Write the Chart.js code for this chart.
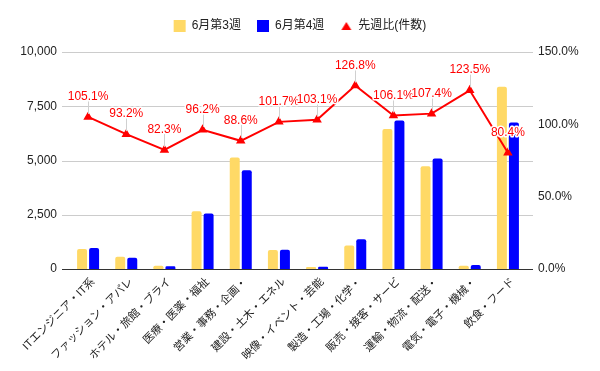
<!DOCTYPE html>
<html>
<head>
<meta charset="utf-8">
<script src="https://cdn.jsdelivr.net/npm/chart.js@4"></script>
<style>
html,body{margin:0;padding:0;background:#fff;}
#wrap{width:600px;height:371px;position:relative;}
</style>
</head>
<body>
<div id="wrap"><canvas id="c" width="600" height="371"></canvas></div>
<script>
const categories = ["ITエンジニア・IT系","ファッション・アパレ","ホテル・旅館・ブライ","医療・医薬・福祉","営業・事務・企画・","建設・土木・エネル","映像・イベント・芸能","製造・工場・化学・","販売・接客・サービ","運輸・物流・配送・","電気・電子・機械・","飲食・フード"];
const week3 = [920, 560, 150, 2660, 5140, 870, 95, 1080, 6450, 4740, 150, 8400];
const week4 = [970, 522, 123, 2560, 4555, 885, 98, 1370, 6845, 5090, 185, 6750];
const ratio = [105.1, 93.2, 82.3, 96.2, 88.6, 101.7, 103.1, 126.8, 106.1, 107.4, 123.5, 80.4];
const leftTicks = [0, 2500, 5000, 7500, 10000];
const rightTicks = [0, 50, 100, 150];
const seriesNames = ["6月第3週", "6月第4週", "先週比(件数)"];

const FONT = "'Liberation Sans', Arial, 'Noto Sans CJK JP', sans-serif";
Chart.defaults.font.family = FONT;
Chart.defaults.font.size = 12;
Chart.defaults.color = '#222';

// small triangle icon for the legend
const tri = document.createElement('canvas');
tri.width = 12; tri.height = 12;
(function(){
  const c = tri.getContext('2d');
  c.fillStyle = '#ff0000';
  c.beginPath();
  c.moveTo(6, 2); c.lineTo(11, 10); c.lineTo(1, 10); c.closePath();
  c.fill();
})();

const layoutPlugin = {
  id: 'legendSpace',
  beforeLayout(chart) {
    const lg = chart.legend;
    if (lg && !lg._patched) {
      const orig = lg.fit;
      lg.fit = function() { orig.call(this); this.height += 10; };
      lg._patched = true;
    }
  }
};

const gridPlugin = {
  id: 'grid',
  beforeDatasetsDraw(chart) {
    const ctx = chart.ctx, a = chart.chartArea, y = chart.scales.y;
    ctx.save();
    leftTicks.forEach(v => {
      const py = Math.round(y.getPixelForValue(v)) + 0.5;
      ctx.beginPath();
      ctx.strokeStyle = v === 0 ? '#333' : '#cccccc';
      ctx.lineWidth = 1;
      ctx.moveTo(a.left - 7, py);
      ctx.lineTo(a.right + 6, py);
      ctx.stroke();
    });
    ctx.restore();
  }
};

const xLabelPlugin = {
  id: 'xLabels',
  afterDraw(chart) {
    const ctx = chart.ctx, x = chart.scales.x, a = chart.chartArea;
    ctx.save();
    ctx.font = '11px ' + FONT;
    ctx.fillStyle = '#222';
    ctx.textAlign = 'right';
    ctx.textBaseline = 'middle';
    categories.forEach((lab, i) => {
      const px = x.getPixelForTick(i);
      ctx.save();
      ctx.translate(px + 5, a.bottom + 11);
      ctx.rotate(-Math.PI / 4);
      ctx.fillText(lab, 0, 0);
      ctx.restore();
    });
    ctx.restore();
  }
};

const labelPlugin = {
  id: 'lineLabels',
  afterDatasetsDraw(chart) {
    const ctx = chart.ctx;
    const meta = chart.getDatasetMeta(2);
    ctx.save();
    ctx.font = '12px ' + FONT;
    ctx.textAlign = 'center';
    ctx.textBaseline = 'alphabetic';
    meta.data.forEach((pt, i) => {
      const x = pt.x, yy = pt.y;
      ctx.beginPath();
      ctx.strokeStyle = '#d0d0d0';
      ctx.lineWidth = 1;
      ctx.moveTo(Math.round(x) + 0.5, yy - 3);
      ctx.lineTo(Math.round(x) + 0.5, yy - 16);
      ctx.stroke();
      const txt = ratio[i].toFixed(1) + '%';
      ctx.lineWidth = 3;
      ctx.strokeStyle = '#ffffff';
      ctx.lineJoin = 'round';
      ctx.strokeText(txt, x, yy - 17);
      ctx.fillStyle = '#ff0000';
      ctx.fillText(txt, x, yy - 17);
    });
    ctx.restore();
  }
};

new Chart(document.getElementById('c'), {
  type: 'bar',
  data: {
    labels: categories,
    datasets: [
      { label: seriesNames[0], data: week3, backgroundColor: '#ffd966', yAxisID: 'y', order: 2,
        categoryPercentage: 0.63, barPercentage: 0.83, borderRadius: {topLeft: 2, topRight: 2}, borderSkipped: 'bottom' },
      { label: seriesNames[1], data: week4, backgroundColor: '#0000ff', yAxisID: 'y', order: 2,
        categoryPercentage: 0.63, barPercentage: 0.83, borderRadius: {topLeft: 2, topRight: 2}, borderSkipped: 'bottom' },
      { label: seriesNames[2], type: 'line', data: ratio, yAxisID: 'y1', order: 0,
        borderColor: '#ff0000', backgroundColor: '#ff0000', borderWidth: 2, tension: 0,
        pointStyle: 'triangle', pointRadius: 3.5, pointHoverRadius: 3.5, pointBackgroundColor: '#ff0000', pointBorderColor: '#ff0000' }
    ]
  },
  options: {
    responsive: false,
    animation: false,
    devicePixelRatio: 1,
    layout: { padding: { top: 4, bottom: 0, left: 0, right: 0 } },
    plugins: {
      tooltip: { enabled: false },
      legend: {
        position: 'top',
        labels: {
          usePointStyle: true,
          boxWidth: 12, boxHeight: 12,
          padding: 16,
          color: '#222',
          font: { size: 12, family: FONT },
          sort: (a, b) => a.datasetIndex - b.datasetIndex,
          generateLabels(chart) {
            const items = Chart.defaults.plugins.legend.labels.generateLabels(chart);
            items.forEach(it => {
              it.pointStyle = it.datasetIndex === 2 ? tri : 'rect';
              it.lineWidth = 0;
              it.strokeStyle = 'rgba(0,0,0,0)';
            });
            return items;
          }
        }
      }
    },
    scales: {
      x: {
        grid: { display: false },
        border: { display: false },
        ticks: { display: false },
        afterFit(s) { s.height = 102; }
      },
      y: {
        position: 'left',
        min: 0, max: 10000,
        afterBuildTicks(s) { s.ticks = leftTicks.map(v => ({ value: v })); },
        grid: { display: false, drawTicks: false },
        border: { display: false },
        ticks: { padding: 12, color: '#222', callback: v => v.toLocaleString('en-US') },
        afterFit(s) { s.width = 69; }
      },
      y1: {
        position: 'right',
        min: 0, max: 150,
        afterBuildTicks(s) { s.ticks = rightTicks.map(v => ({ value: v })); },
        grid: { display: false, drawTicks: false },
        border: { display: false },
        ticks: { padding: 11, color: '#222', callback: v => v.toFixed(1) + '%' },
        afterFit(s) { s.width = 73; }
      }
    }
  },
  plugins: [layoutPlugin, gridPlugin, labelPlugin, xLabelPlugin]
});
</script>
</body>
</html>
